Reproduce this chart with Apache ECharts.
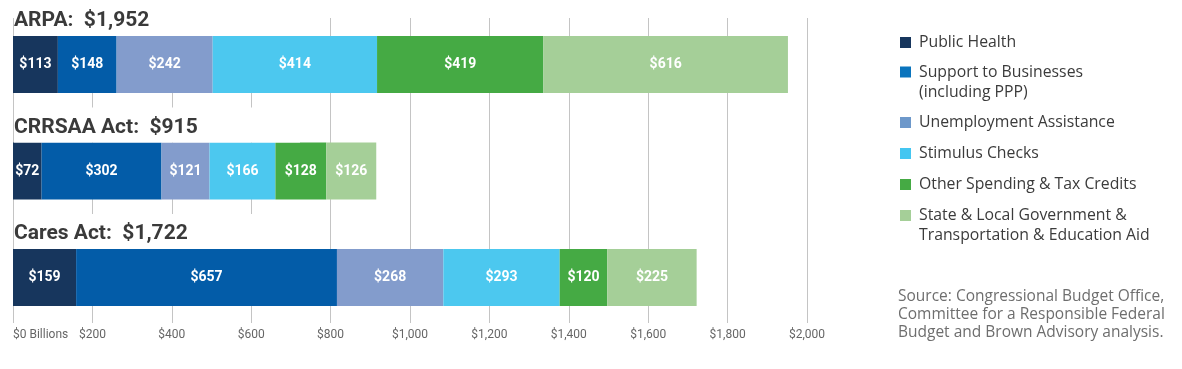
<!DOCTYPE html>
<html><head><meta charset="utf-8">
<script src="https://cdn.jsdelivr.net/npm/echarts@6/dist/echarts.min.js"></script>
<style>html,body{margin:0;padding:0;background:#fff}#c{width:1182px;height:369px}</style>
</head><body><div id="c"></div>
<script>
const categories = ['ARPA', 'CRRSAA Act', 'Cares Act'];
const totals = [1952, 915, 1722];
const seriesNames = [
  'Public Health',
  'Support to Businesses\n(including PPP)',
  'Unemployment Assistance',
  'Stimulus Checks',
  'Other Spending & Tax Credits',
  'State & Local Government &\nTransportation & Education Aid'
];
const publicHealth = [113, 72, 159];
const businesses = [148, 302, 657];
const unemployment = [242, 121, 268];
const stimulus = [414, 166, 293];
const otherSpending = [419, 128, 120];
const stateLocal = [616, 126, 225];
const xMin = 0, xMax = 2000, xInterval = 200;
const sourceText = 'Source: Congressional Budget Office,\nCommittee for a Responsible Federal\nBudget and Brown Advisory analysis.';

const colors = ['#17365d', '#035ca8', '#839ccc', '#4cc8ef', '#45aa44', '#a5cf98'];
const legendColors = ['#17365d', '#0a74bd', '#6d98ca', '#44c6f1', '#45aa44', '#a5cf98'];
const stacks = [publicHealth, businesses, unemployment, stimulus, otherSpending, stateLocal];
const FONT = 'Roboto';
const SIDE_FONT = 'Open Sans';
const fmt = v => '$' + v.toLocaleString('en-US');

const chart = echarts.init(document.getElementById('c'), null, {renderer: 'canvas'});

const series = stacks.map((d, i) => ({
  type: 'bar', name: seriesNames[i], stack: 'total', xAxisIndex: 0, yAxisIndex: 0,
  barWidth: 57, data: d,
  itemStyle: {color: colors[i]},
  label: {show: true, position: 'inside', formatter: p => fmt(p.value),
    color: '#fff', fontWeight: 'bold', fontSize: 14, fontFamily: FONT}
}));
series.push({
  type: 'bar', name: '_total', xAxisIndex: 0, yAxisIndex: 0, barWidth: 57, barGap: '-100%',
  data: totals, silent: true,
  itemStyle: {color: 'rgba(0,0,0,0)'},
  label: {show: true, position: [1, -35], align: 'left', verticalAlign: 'top',
    formatter: p => categories[p.dataIndex] + ':  ' + fmt(p.value),
    backgroundColor: '#fff', width: 286, height: 30, lineHeight: 30, padding: [5, 0, 0, 0],
    fontSize: 21, fontWeight: 'bold', color: '#3a3a3a', fontFamily: FONT}
});

// legends: one per item so the icon sits on the first text line
const legendCenters = [42.5, 72, 122.5, 153.5, 184.5, 215.5];
const legends = seriesNames.map((n, i) => {
  const twoLine = n.indexOf('\n') >= 0;
  return {
    data: [{name: n, itemStyle: {color: legendColors[i]}}],
    left: 900, top: legendCenters[i] - (twoLine ? 30 : 10),
    padding: 0, itemWidth: 11, itemHeight: 11, icon: 'rect', orient: 'vertical',
    selectedMode: false,
    formatter: name => twoLine ? '\n' + name : name,
    textStyle: {fontFamily: SIDE_FONT, fontSize: 15.8, color: '#3b3b3b', lineHeight: 20,
      padding: [0, 0, 0, 3]}
  };
});

chart.setOption({
  animation: false,
  backgroundColor: '#fff',
  title: {text: sourceText, left: 898, top: 288, padding: 0,
    textStyle: {fontFamily: SIDE_FONT, fontSize: 15.5, fontWeight: 'normal', color: '#6e6e6e', lineHeight: 18}},
  legend: legends,
  grid: [
    {left: 13, width: 794, top: 11.25, height: 319.5, containLabel: false},
    {left: 13, width: 794, top: 18, height: 305, containLabel: false}
  ],
  xAxis: [
    {gridIndex: 0, type: 'value', min: xMin, max: xMax, show: false},
    {gridIndex: 1, type: 'value', min: xMin, max: xMax, interval: xInterval,
      axisLine: {show: false}, axisTick: {show: false},
      splitLine: {show: true, lineStyle: {color: '#c4c4c4', width: 1}},
      axisLabel: {formatter: v => v === 0 ? '$0 Billions' : fmt(v), color: '#666',
        fontSize: 12, fontFamily: FONT, margin: 6, alignMinLabel: 'left'}}
  ],
  yAxis: [
    {gridIndex: 0, type: 'category', data: categories, inverse: true, show: false},
    {gridIndex: 1, type: 'value', show: false}
  ],
  series: series
});
</script></body></html>
